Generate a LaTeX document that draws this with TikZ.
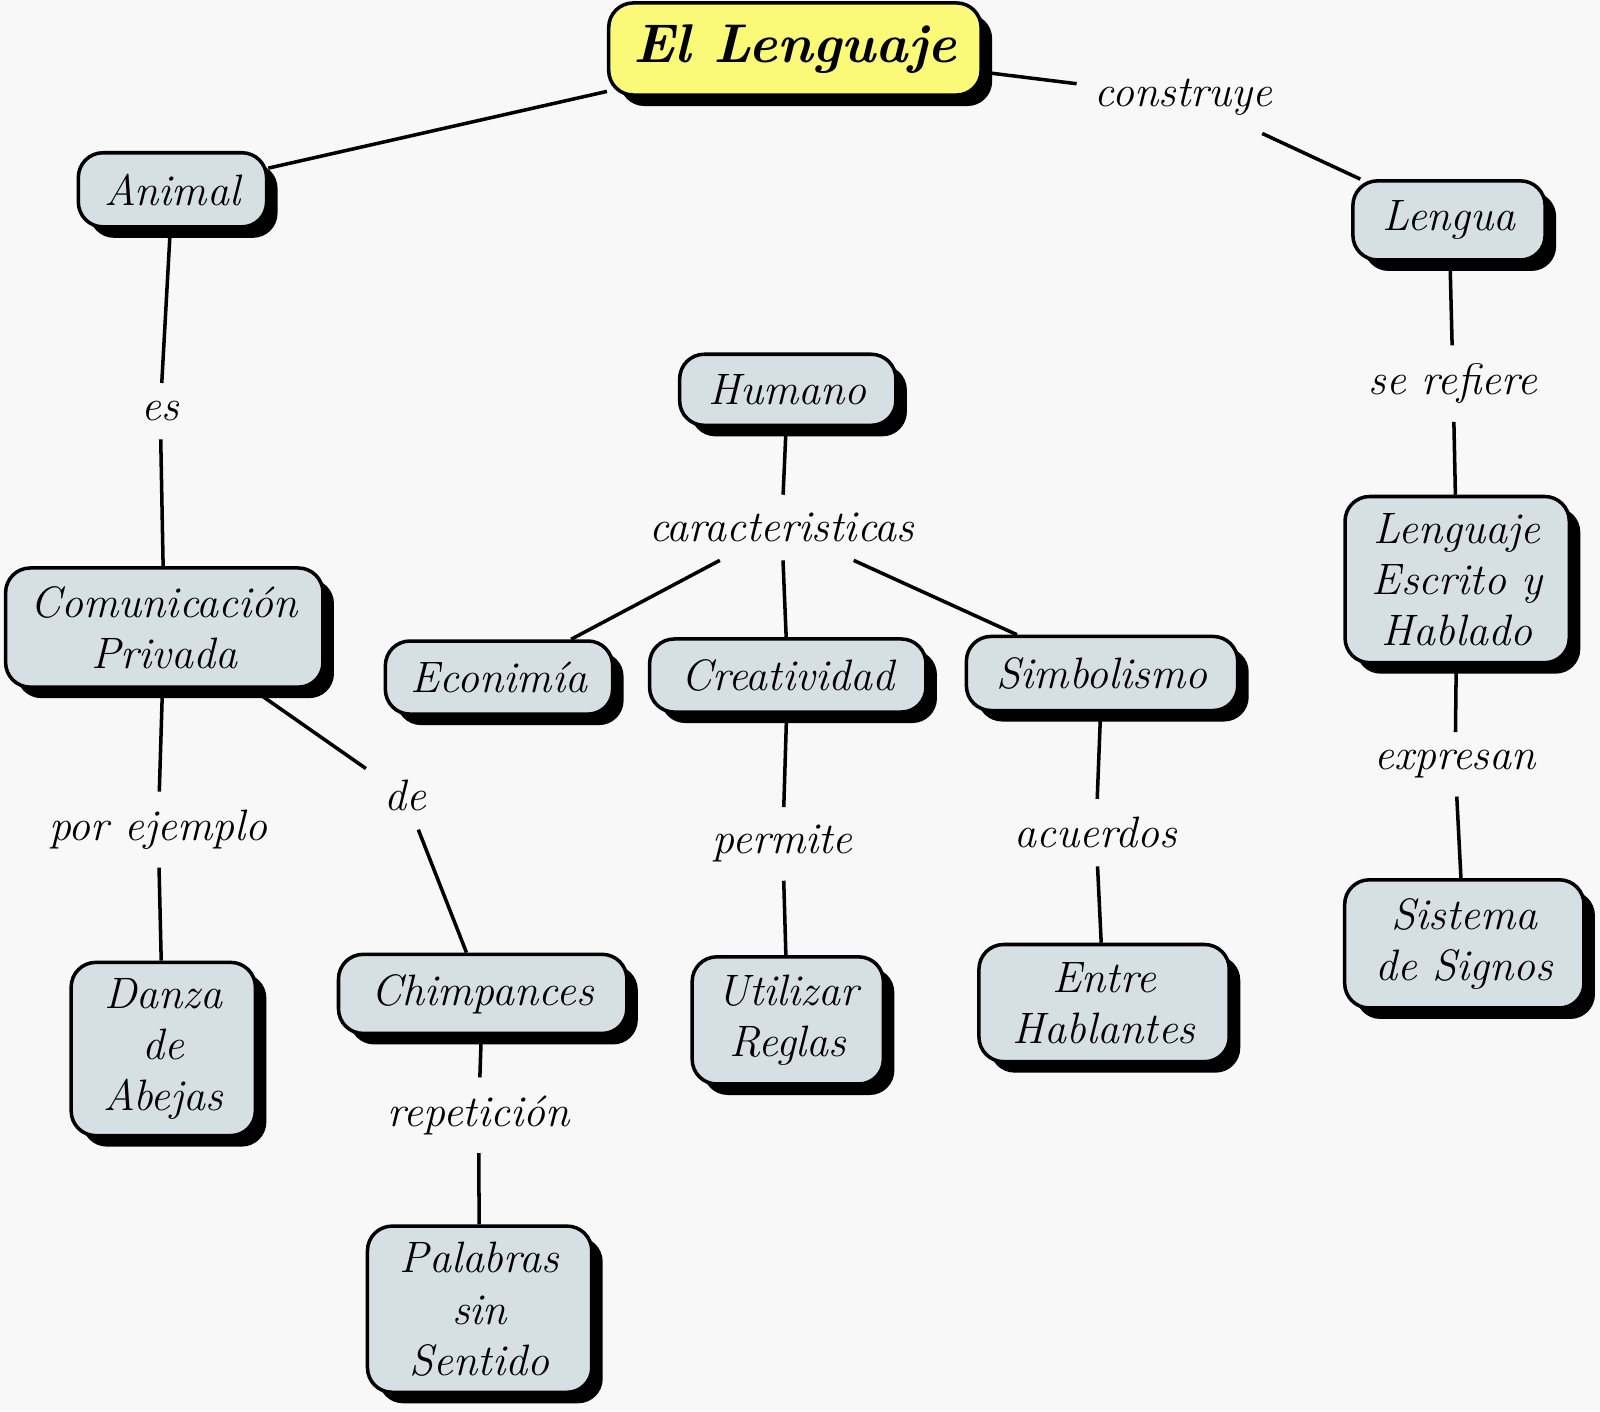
\documentclass[tikz,border=0pt]{standalone}
\usetikzlibrary{shadows}
\definecolor{bg}{HTML}{F8F8F8}
\definecolor{boxc}{HTML}{D6DFE4}
\definecolor{ttl}{HTML}{FAFA78}
\begin{document}
\begin{tikzpicture}[x=0.0102cm,y=-0.0102cm,
  box/.style={draw=black,line width=1pt,rounded corners=7pt,fill=boxc,
    drop shadow={fill=black,opacity=1,shadow xshift=1.1mm,shadow yshift=-1.1mm},
    align=center,font=\fontsize{12.5}{14.5}\selectfont\itshape,inner sep=0pt},
  lab/.style={font=\fontsize{12.5}{14}\selectfont\itshape,inner sep=5pt},
  ln/.style={line width=1pt}]
\fill[bg] (0,0) rectangle (1568,1383);
\useasboundingbox (0,0) rectangle (1568,1383);
\node[box,fill=ttl,minimum width=3.72cm,minimum height=0.92cm,font=\fontsize{15.5}{18}\selectfont\bfseries\itshape] (t) at (779,48) {El Lenguaje};
\node[box,minimum width=1.88cm,minimum height=0.74cm] (an) at (169,186) {Animal};
\node[box,minimum width=1.92cm,minimum height=0.79cm] (lg) at (1420,216) {Lengua};
\node[box,minimum width=2.16cm,minimum height=0.71cm] (hu) at (772,382) {Humano};
\node[box,minimum width=3.17cm,minimum height=1.19cm] (cp) at (161,615) {Comunicación\\Privada};
\node[box,minimum width=2.27cm,minimum height=0.73cm] (ec) at (489,664) {Econimía};
\node[box,minimum width=2.76cm,minimum height=0.73cm] (cr) at (772,662) {Creatividad};
\node[box,minimum width=2.71cm,minimum height=0.74cm] (si) at (1080,660) {Simbolismo};
\node[box,minimum width=2.24cm,minimum height=1.66cm] (le) at (1428,568) {Lenguaje\\Escrito y\\Hablado};
\node[box,minimum width=1.84cm,minimum height=1.73cm] (da) at (160,1028) {Danza\\de\\Abejas};
\node[box,minimum width=2.88cm,minimum height=0.79cm] (ch) at (473,974) {Chimpances};
\node[box,minimum width=1.91cm,minimum height=1.27cm] (ur) at (772,1000) {Utilizar\\Reglas};
\node[box,minimum width=2.5cm,minimum height=1.17cm] (eh) at (1082,983) {Entre\\Hablantes};
\node[box,minimum width=2.39cm,minimum height=1.28cm] (ss) at (1435,925) {Sistema\\de Signos};
\node[box,minimum width=2.24cm,minimum height=1.66cm] (ps) at (470,1283) {Palabras\\sin\\Sentido};
\node[lab] (l1) at (1160,95) {construye};
\node[lab] (l2) at (157,403) {es};
\node[lab] (l3) at (1424,376) {se refiere};
\node[lab] (l4) at (766,517) {caracteristicas};
\node[lab] (l5) at (155,813) {por ejemplo};
\node[lab] (l6) at (397,780) {de};
\node[lab] (l7) at (767,827) {permite};
\node[lab] (l8) at (1074,816) {acuerdos};
\node[lab] (l9) at (1426,749) {expresan};
\node[lab] (l10) at (469,1093) {repetición};
\draw[ln] (t) -- (an);
\draw[ln] (t) -- (l1) -- (lg);
\draw[ln] (an) -- (l2) -- (cp);
\draw[ln] (lg) -- (l3) -- (le);
\draw[ln] (le) -- (l9) -- (ss);
\draw[ln] (hu) -- (l4);
\draw[ln] (l4) -- (ec); \draw[ln] (l4) -- (cr); \draw[ln] (l4) -- (si);
\draw[ln] (cp) -- (l5) -- (da);
\draw[ln] (cp) -- (l6) -- (ch);
\draw[ln] (ch) -- (l10) -- (ps);
\draw[ln] (cr) -- (l7) -- (ur);
\draw[ln] (si) -- (l8) -- (eh);
\end{tikzpicture}
\end{document}
